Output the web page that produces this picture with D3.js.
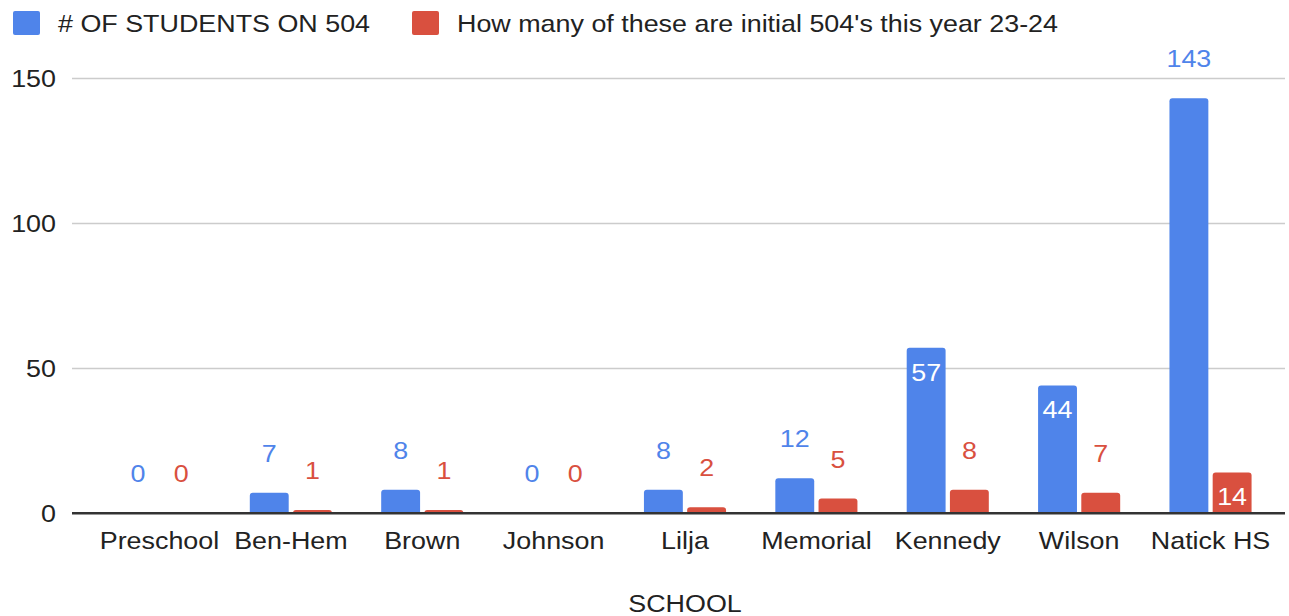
<!DOCTYPE html>
<html><head><meta charset="utf-8">
<script src="https://cdn.jsdelivr.net/npm/d3@7"></script>
<style>body{margin:0;background:#fff;} text{font-family:"Liberation Sans",Arial,sans-serif;}</style>
</head><body>
<svg id="c" width="1289" height="616"></svg>
<script>
const categories = ["Preschool","Ben-Hem","Brown","Johnson","Lilja","Memorial","Kennedy","Wilson","Natick HS"];
const seriesNames = ["# OF STUDENTS ON 504","How many of these are initial 504's this year 23-24"];
const students = [0,7,8,0,8,12,57,44,143];
const initial = [0,1,1,0,2,5,8,7,14];
const yTicks = [0,50,100,150];
const insideLabels = [["Kennedy",0],["Wilson",0],["Natick HS",1]];
const xTitle = "SCHOOL";
const colors = ["#4f84ea","#d9503f"];

const svg = d3.select("#c");
const SX = 1.12;
function label(g, x, yy, str, anchor, fill){
  return g.append("text")
    .attr("transform", `translate(${x},${yy}) scale(${SX},1)`)
    .attr("text-anchor", anchor).attr("font-size", 24).attr("fill", fill).text(str);
}

const y = d3.scaleLinear().domain([0,150]).range([513,78]);
const x0 = d3.scaleBand().domain(categories).range([93.8,1276.2]).padding(0);
const gw = x0.step()*0.625;
const x1 = d3.scaleBand().domain([0,1]).range([-gw/2,gw/2]).paddingInner(0.1);

// gridlines
const yAxis = d3.axisLeft(y).tickValues(yTicks).tickSize(-(1285-72)).tickFormat("");
const gy = svg.append("g").attr("transform","translate(72,0)").call(yAxis);
gy.select(".domain").remove();
gy.selectAll(".tick line").attr("stroke", d=> d===0 ? "#333" : "#cccccc").attr("stroke-width", d=> d===0?2:1.5);
yTicks.forEach(t => label(svg, 56, y(t)+8.5, String(t), "end", "#222"));

// bars
function barPath(xl, w, yt, yb){
  const h = yb-yt; if (h<=0) return "";
  const r = Math.min(3, h, w/2);
  return `M${xl},${yb}V${yt+r}Q${xl},${yt} ${xl+r},${yt}H${xl+w-r}Q${xl+w},${yt} ${xl+w},${yt+r}V${yb}Z`;
}
const series = [students, initial];
const gBars = svg.append("g");
series.forEach((vals, si) => {
  categories.forEach((cat, i) => {
    const v = vals[i];
    const xl = x0(cat) + x0.bandwidth()/2 + x1(si);
    const w = x1.bandwidth();
    if (v > 0) gBars.append("path").attr("d", barPath(xl, w, y(v), y(0))).attr("fill", colors[si]);
    const inside = insideLabels.some(p => p[0]===cat && p[1]===si);
    label(gBars, xl + w/2, inside ? y(v)+33 : y(v)-31, String(v), "middle", inside ? "#ffffff" : colors[si]);
  });
});

// baseline on top
svg.append("line").attr("x1",72).attr("x2",1285).attr("y1",y(0)).attr("y2",y(0)).attr("stroke","#333").attr("stroke-width",2);

// x labels
const gx = svg.append("g");
categories.forEach(c => label(gx, x0(c)+x0.bandwidth()/2, 548.5, c, "middle", "#222"));

label(svg, 685, 612, xTitle, "middle", "#222");

// legend
const legX = [13, 412];
seriesNames.forEach((n, i) => {
  svg.append("rect").attr("x",legX[i]).attr("y",11).attr("width",27).attr("height",24).attr("rx",2).attr("fill",colors[i]);
  label(svg, legX[i]+45, 31.5, n, "start", "#222");
});
</script>
</body></html>
